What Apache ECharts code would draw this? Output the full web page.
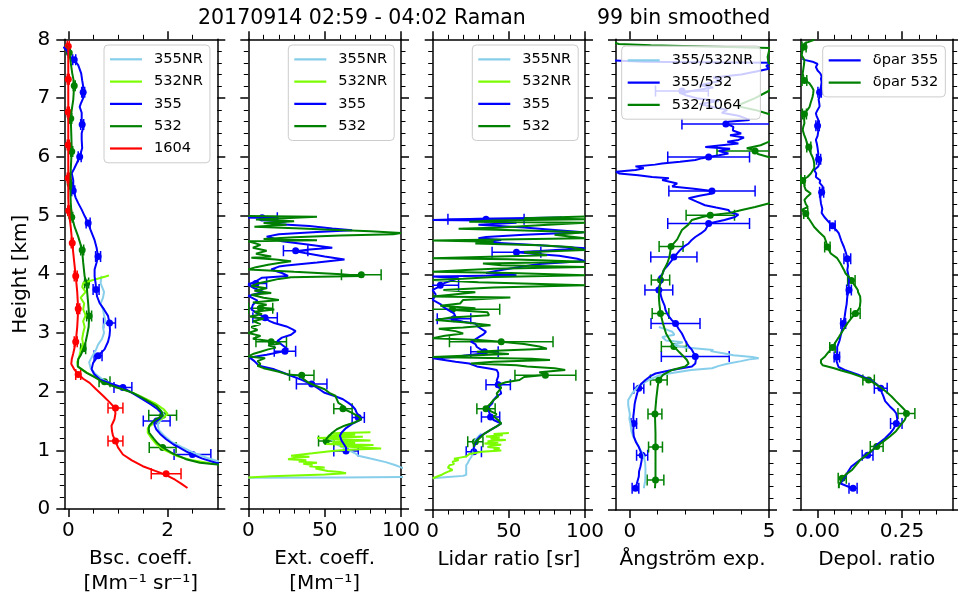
<!DOCTYPE html>
<html><head><meta charset="utf-8">
<script src="https://cdn.jsdelivr.net/npm/echarts@6/dist/echarts.min.js"></script>
<style>html,body{margin:0;padding:0;background:#fff}#c{width:958px;height:601px}</style>
</head><body><div id="c"></div><script>
// ---------- data: profiles as [height_km, value] ----------
const bsc355NR = [[3.97,0.67],[3.85,0.65],[3.7,0.72],[3.6,0.7],[3.5,0.65],[3.4,0.7],[3.3,0.72],[3.2,0.75],[3.1,0.7],[3.0,0.72],[2.9,0.68],[2.8,0.6],[2.7,0.55],[2.6,0.48],[2.5,0.42],[2.4,0.45],[2.3,0.55],[2.2,0.7],[2.1,0.95],[2.0,1.25],[1.9,1.5],[1.8,1.7],[1.7,1.85],[1.6,1.93],[1.53,1.88],[1.45,1.8],[1.35,1.82],[1.25,1.93],[1.15,2.07],[1.05,2.3],[0.95,2.55],[0.87,2.8],[0.82,3.0],[0.8,3.2]];
const bsc532NR = [[3.98,0.82],[3.96,0.75],[3.9,0.5],[3.85,0.3],[3.78,0.28],[3.7,0.35],[3.6,0.25],[3.5,0.32],[3.4,0.3],[3.3,0.35],[3.2,0.3],[3.1,0.33],[3.0,0.3],[2.9,0.28],[2.8,0.3],[2.7,0.25],[2.6,0.22],[2.5,0.18],[2.42,0.2],[2.32,0.38],[2.2,0.65],[2.1,0.9],[2.0,1.25],[1.9,1.5],[1.8,1.75],[1.7,1.92],[1.62,2.0],[1.55,1.9],[1.45,1.7],[1.38,1.6],[1.3,1.6],[1.2,1.68],[1.1,1.78],[1.0,1.95],[0.9,2.2],[0.83,2.5],[0.78,2.85],[0.75,3.2]];
const bsc355 = [[7.87,-0.1],[7.8,-0.02],[7.73,0.0],[7.65,0.12],[7.56,0.2],[7.42,0.26],[7.3,0.28],[7.2,0.3],[7.1,0.28],[7.0,0.3],[6.9,0.25],[6.85,0.23],[6.75,0.27],[6.63,0.27],[6.5,0.3],[6.4,0.27],[6.29,0.27],[6.15,0.28],[6.0,0.23],[5.89,0.17],[5.8,0.12],[5.72,0.07],[5.6,0.1],[5.44,0.1],[5.3,0.15],[5.21,0.2],[5.1,0.27],[4.99,0.33],[4.87,0.4],[4.75,0.45],[4.58,0.53],[4.45,0.57],[4.3,0.6],[4.2,0.57],[4.08,0.53],[3.96,0.53],[3.85,0.55],[3.74,0.56],[3.62,0.58],[3.51,0.63],[3.4,0.72],[3.29,0.8],[3.17,0.83],[3.05,0.84],[2.95,0.83],[2.85,0.8],[2.72,0.73],[2.61,0.6],[2.55,0.55],[2.49,0.5],[2.38,0.47],[2.3,0.52],[2.21,0.63],[2.14,0.85],[2.07,1.1],[1.97,1.3],[1.87,1.5],[1.78,1.67],[1.7,1.8],[1.64,1.87],[1.59,1.9],[1.53,1.83],[1.47,1.73],[1.42,1.74],[1.36,1.77],[1.28,1.85],[1.19,1.97],[1.1,2.12],[1.05,2.23],[0.98,2.38],[0.93,2.5],[0.86,2.7],[0.79,2.97],[0.75,3.2]];
const bsc532 = [[7.9,-0.02],[7.78,0.02],[7.6,0.05],[7.42,0.08],[7.25,0.12],[7.1,0.11],[6.97,0.1],[6.8,0.07],[6.66,0.05],[6.4,0.06],[6.12,0.07],[5.95,0.06],[5.78,0.05],[5.52,0.04],[5.21,0.05],[4.99,0.07],[4.8,0.13],[4.64,0.2],[4.5,0.25],[4.39,0.28],[4.2,0.3],[3.96,0.33],[3.85,0.37],[3.7,0.38],[3.51,0.4],[3.4,0.41],[3.26,0.42],[3.1,0.41],[2.97,0.38],[2.85,0.35],[2.72,0.3],[2.62,0.25],[2.55,0.2],[2.43,0.19],[2.32,0.37],[2.25,0.52],[2.16,0.7],[2.07,0.98],[1.98,1.3],[1.87,1.55],[1.76,1.77],[1.66,1.88],[1.59,1.9],[1.53,1.77],[1.47,1.68],[1.42,1.63],[1.36,1.62],[1.3,1.63],[1.2,1.72],[1.12,1.8],[1.05,1.9],[0.95,2.1],[0.85,2.37],[0.79,2.65],[0.76,3.0],[0.74,3.2]];
const bsc1604 = [[7.95,-0.02],[7.88,0.0],[7.6,0.0],[7.34,0.0],[7.0,0.0],[6.77,0.0],[6.5,0.0],[6.21,0.0],[5.9,0.0],[5.65,0.0],[5.3,0.0],[5.08,0.01],[4.8,0.05],[4.53,0.08],[4.2,0.12],[3.97,0.15],[3.7,0.18],[3.4,0.2],[3.1,0.18],[2.84,0.15],[2.65,0.1],[2.55,0.07],[2.47,0.06],[2.38,0.12],[2.3,0.2],[2.22,0.3],[2.15,0.43],[2.05,0.55],[1.93,0.7],[1.83,0.82],[1.73,0.93],[1.63,0.95],[1.53,0.93],[1.42,0.87],[1.33,0.88],[1.25,0.9],[1.16,0.95],[1.05,1.0],[0.93,1.1],[0.83,1.28],[0.73,1.5],[0.65,1.75],[0.58,1.97],[0.5,2.15],[0.43,2.28],[0.36,2.4]];
// error bars as [height_km, value, error]
const errBsc355 = [[7.65,0.12,0.03],[7.1,0.3,0.03],[6.55,0.28,0.03],[6.0,0.23,0.03],[5.42,0.1,0.03],[4.87,0.4,0.04],[4.3,0.6,0.05],[3.74,0.56,0.06],[3.17,0.83,0.12],[2.61,0.6,0.08],[2.07,1.1,0.18],[1.5,1.78,0.27],[0.93,2.5,0.37]];
const errBsc532 = [[7.77,0.02,0.02],[7.21,0.12,0.02],[6.65,0.05,0.02],[6.09,0.07,0.02],[5.53,0.04,0.02],[4.97,0.07,0.02],[4.41,0.28,0.03],[3.85,0.37,0.04],[3.29,0.42,0.05],[2.73,0.3,0.05],[2.17,0.73,0.11],[1.6,1.9,0.28],[1.05,1.9,0.27]];
const errBsc1604 = [[7.88,0.0,0.02],[7.32,0.0,0.02],[6.76,0.0,0.02],[6.2,0.0,0.02],[5.64,0.0,0.02],[5.08,0.01,0.02],[4.53,0.08,0.02],[3.97,0.15,0.03],[3.41,0.2,0.03],[2.85,0.15,0.03],[2.29,0.2,0.05],[1.72,0.95,0.15],[1.16,0.95,0.15],[0.6,1.97,0.3]];

const ext355NR = [[1.3,55],[1.25,53],[1.2,54],[1.15,56],[1.1,58],[1.05,62],[1.0,66],[0.95,70],[0.91,72],[0.86,80],[0.8,90],[0.75,96],[0.71,100],[0.65,110],[0.55,150],[0.54,60],[0.535,0]];
const ext532NR = [[1.31,80],[1.29,55],[1.27,70],[1.25,52],[1.23,75],[1.21,45],[1.19,60],[1.17,80],[1.15,55],[1.13,70],[1.11,50],[1.09,82],[1.07,60],[1.05,75],[1.03,87],[1.01,65],[0.99,55],[0.97,55],[0.95,42],[0.93,35],[0.91,28],[0.89,40],[0.87,30],[0.85,26],[0.83,38],[0.81,33],[0.79,45],[0.77,36],[0.75,42],[0.73,40],[0.71,50],[0.69,44],[0.67,48],[0.65,52],[0.63,60],[0.61,64],[0.59,50],[0.56,15],[0.54,0]];
const ext355 = [[4.97,0],[4.96,10],[4.95,20],[4.92,8],[4.9,25],[4.86,15],[4.82,40],[4.78,55],[4.75,68],[4.72,45],[4.68,20],[4.64,12],[4.62,15],[4.56,22],[4.5,40],[4.45,55],[4.42,40],[4.39,31],[4.36,37],[4.3,50],[4.25,63],[4.2,45],[4.15,25],[4.13,20],[4.08,15],[4.02,22],[3.97,26],[3.94,9],[3.88,5],[3.82,0],[3.76,4],[3.7,10],[3.63,0],[3.55,6],[3.48,3],[3.4,2],[3.33,6],[3.26,11],[3.2,14],[3.17,17],[3.11,25],[3.06,29],[3.03,31],[2.97,28],[2.92,22],[2.86,19],[2.8,22],[2.77,22],[2.72,26],[2.69,24],[2.63,12],[2.58,1],[2.52,4],[2.44,7],[2.38,17],[2.33,22],[2.27,28],[2.2,35],[2.13,41],[2.05,46],[1.98,50],[1.93,56],[1.87,62],[1.8,66],[1.76,68],[1.7,70],[1.64,71],[1.58,73],[1.53,74],[1.49,71],[1.45,68],[1.38,64],[1.3,61],[1.25,60],[1.22,60],[1.17,61],[1.13,62],[1.05,64],[0.99,64]];
const ext532 = [[4.99,0],[4.98,45],[4.95,20],[4.93,5],[4.9,30],[4.87,10],[4.84,25],[4.81,4],[4.78,35],[4.76,50],[4.73,80],[4.7,100],[4.68,95],[4.66,60],[4.63,30],[4.6,10],[4.58,45],[4.56,0],[4.5,8],[4.45,3],[4.4,12],[4.35,5],[4.3,15],[4.28,2],[4.25,18],[4.22,28],[4.19,20],[4.16,13],[4.12,5],[4.08,0],[4.04,30],[4.0,61],[3.97,74],[3.95,28],[3.92,20],[3.88,13],[3.84,6],[3.8,2],[3.76,12],[3.72,4],[3.68,15],[3.65,2],[3.6,10],[3.56,20],[3.52,3],[3.48,12],[3.44,6],[3.4,17],[3.36,4],[3.32,9],[3.28,1],[3.24,10],[3.2,3],[3.15,8],[3.1,2],[3.05,6],[3.0,0],[2.95,8],[2.9,3],[2.86,15],[2.82,21],[2.79,13],[2.75,18],[2.72,13],[2.68,8],[2.64,3],[2.6,0],[2.57,11],[2.52,6],[2.47,8],[2.44,6],[2.4,10],[2.38,13],[2.34,20],[2.29,26],[2.27,35],[2.22,36],[2.16,39],[2.1,44],[2.04,50],[1.98,53],[1.93,57],[1.87,58],[1.81,59],[1.76,62],[1.7,63],[1.64,68],[1.58,72],[1.53,74],[1.48,70],[1.42,63],[1.36,58],[1.3,55],[1.25,53],[1.19,51],[1.14,51],[1.1,50]];
const errExt355 = [[4.96,9,10],[4.4,31,8],[3.84,5,7],[3.26,11,8],[2.69,24,7],[2.13,41.5,10],[1.56,72,4],[0.99,64,8]];
const errExt532 = [[3.99,74,13],[3.42,8,8],[2.85,15,10],[2.28,35,8],[1.71,62,6],[1.16,51,5]];

const lr355NR = [[1.3,32],[1.25,30],[1.19,28],[1.1,27],[1.02,27],[0.95,26],[0.91,25.5],[0.85,24],[0.8,23],[0.76,22],[0.7,22],[0.65,22],[0.6,22],[0.58,20],[0.56,10],[0.54,0]];
const lr532NR = [[1.31,50],[1.29,40],[1.27,46],[1.25,35],[1.23,44],[1.21,38],[1.19,48],[1.17,36],[1.15,43],[1.13,34],[1.11,45],[1.09,38],[1.07,36],[1.05,44],[1.03,40],[1.01,45],[0.99,32],[0.97,28],[0.95,24],[0.93,25],[0.91,22],[0.89,18],[0.87,14],[0.85,17],[0.82,13],[0.8,12],[0.78,14],[0.76,11],[0.74,12],[0.72,10],[0.7,11],[0.68,13],[0.66,11],[0.64,9],[0.62,8],[0.6,6],[0.57,3],[0.54,0]];
const lr355 = [[4.97,85],[4.95,30],[4.93,0],[4.92,35],[4.88,55],[4.85,30],[4.8,60],[4.76,80],[4.72,99],[4.68,60],[4.64,35],[4.62,30],[4.59,45],[4.55,35],[4.5,70],[4.45,100],[4.4,70],[4.38,55],[4.35,68],[4.32,83],[4.27,95],[4.23,100],[4.18,70],[4.13,57],[4.08,45],[4.03,35],[3.99,55],[3.97,0],[3.94,17],[3.91,16],[3.86,8],[3.82,5],[3.78,3],[3.74,0],[3.66,2],[3.57,0],[3.5,5],[3.45,7],[3.4,10],[3.34,14],[3.28,15],[3.24,14],[3.2,20],[3.17,28],[3.11,30],[3.06,33],[3.03,35],[2.98,33],[2.95,31],[2.9,28],[2.86,25],[2.82,28],[2.77,29],[2.72,32],[2.69,34],[2.65,30],[2.62,20],[2.6,16],[2.58,0],[2.52,15],[2.49,24],[2.44,29],[2.4,38],[2.38,42],[2.33,43],[2.27,43],[2.2,42],[2.13,43],[2.06,44],[1.98,45],[1.93,42],[1.87,40],[1.81,39],[1.76,37],[1.73,36],[1.67,37],[1.59,38],[1.53,40],[1.47,45],[1.42,42],[1.36,38],[1.3,34],[1.25,31],[1.19,29],[1.13,28],[1.06,27],[0.99,27]];
const lr532 = [[4.99,100],[4.96,60],[4.94,100],[4.92,40],[4.9,24],[4.88,100],[4.85,100],[4.84,70],[4.8,45],[4.78,17],[4.75,60],[4.72,100],[4.68,80],[4.62,100],[4.58,0],[4.56,40],[4.53,28],[4.5,70],[4.47,90],[4.42,100],[4.38,60],[4.33,75],[4.28,0],[4.26,50],[4.22,100],[4.19,33],[4.16,45],[4.13,100],[4.1,40],[4.08,22],[4.05,0],[4.03,51],[3.99,100],[3.96,40],[3.93,20],[3.91,0],[3.87,30],[3.82,100],[3.78,40],[3.74,7],[3.7,28],[3.66,12],[3.63,0],[3.61,51],[3.57,20],[3.51,18],[3.47,5],[3.43,28],[3.4,14],[3.36,36],[3.31,37],[3.27,12],[3.23,2],[3.19,20],[3.14,38],[3.1,20],[3.08,4],[3.04,15],[3.0,20],[2.96,8],[2.92,0],[2.89,30],[2.86,45],[2.82,60],[2.78,70],[2.74,75],[2.71,45],[2.69,29],[2.65,50],[2.62,20],[2.6,0],[2.57,65],[2.55,77],[2.52,40],[2.49,25],[2.46,55],[2.44,62],[2.41,80],[2.38,87],[2.34,70],[2.3,75],[2.26,60],[2.21,57],[2.17,48],[2.13,43],[2.08,45],[2.04,44],[1.98,42],[1.93,43],[1.87,40],[1.81,38],[1.76,36],[1.73,35],[1.68,38],[1.63,42],[1.59,40],[1.53,43],[1.47,45],[1.42,42],[1.36,38],[1.3,34],[1.25,32],[1.2,30],[1.16,28],[1.12,27],[1.07,27]];
const errLr355 = [[4.94,35,25],[4.38,55,16],[3.82,5,12],[3.25,14,11],[2.69,34,9],[2.13,43,8],[1.58,38,6],[0.99,27,5]];
const errLr532 = [[3.41,13,31],[2.86,45,34],[2.29,74,20],[1.72,35,6],[1.16,28,5]];

const ae355_532NR = [[0.37,0.5],[0.5,0.55],[0.68,0.56],[0.8,0.55],[0.91,0.5],[1.0,0.4],[1.13,0.26],[1.25,0.12],[1.35,0.05],[1.47,0.02],[1.55,-0.02],[1.62,0.0],[1.7,-0.03],[1.78,-0.06],[1.87,-0.06],[1.98,0.08],[2.1,0.3],[2.21,0.68],[2.28,1.0],[2.32,1.4],[2.38,2.2],[2.41,2.95],[2.45,3.2],[2.49,3.54],[2.53,4.0],[2.56,4.3],[2.58,4.63],[2.6,4.4],[2.63,3.72],[2.66,3.4],[2.7,2.9],[2.72,3.0],[2.76,2.0],[2.8,1.52],[2.85,1.9],[2.88,1.3],[2.94,1.16],[2.98,1.6],[3.03,1.52],[3.07,1.3],[3.11,1.04]];
const ae355_532 = [[0.37,0.2],[0.45,0.25],[0.57,0.32],[0.66,0.33],[0.74,0.38],[0.84,0.42],[0.93,0.44],[1.0,0.38],[1.07,0.32],[1.15,0.22],[1.25,0.14],[1.35,0.12],[1.47,0.14],[1.58,0.12],[1.7,0.15],[1.8,0.17],[1.87,0.2],[1.98,0.26],[2.07,0.32],[2.14,0.4],[2.21,0.56],[2.27,0.72],[2.32,0.92],[2.38,1.51],[2.44,2.23],[2.49,2.35],[2.55,2.37],[2.6,2.35],[2.66,2.3],[2.72,2.23],[2.78,2.12],[2.83,2.05],[2.9,1.97],[3.0,1.87],[3.08,1.75],[3.17,1.64],[3.23,1.5],[3.29,1.4],[3.35,1.33],[3.4,1.28],[3.47,1.25],[3.57,1.16],[3.63,1.12],[3.68,1.1],[3.74,1.04],[3.8,1.05],[3.85,1.1],[3.91,1.16],[3.96,1.05],[4.0,1.16],[4.08,1.22],[4.15,1.35],[4.25,1.52],[4.3,1.58],[4.36,1.7],[4.42,1.81],[4.48,1.95],[4.53,2.11],[4.58,2.2],[4.64,2.35],[4.7,2.55],[4.76,2.71],[4.82,2.78],[4.87,2.83],[4.93,3.4],[4.98,3.78],[5.02,3.9],[5.06,3.6],[5.1,3.54],[5.14,3.1],[5.18,2.7],[5.24,2.4],[5.3,2.11],[5.34,2.5],[5.38,2.95],[5.42,2.95],[5.46,2.3],[5.5,1.52],[5.55,1.7],[5.61,1.16],[5.64,1.4],[5.66,0.8],[5.69,0.3],[5.72,-0.39],[5.75,-0.5],[5.78,0.2],[5.81,0.5],[5.84,0.2],[5.87,0.9],[5.89,1.16],[5.92,1.8],[5.95,2.35],[5.98,2.6],[6.0,2.83],[6.03,3.2],[6.06,3.54],[6.1,3.2],[6.14,3.6],[6.17,2.71],[6.2,3.3],[6.23,3.9],[6.26,3.5],[6.29,3.9],[6.33,4.1],[6.37,3.6],[6.4,4.0],[6.45,3.7],[6.51,3.72],[6.56,3.5],[6.6,3.54],[6.63,4.3],[6.66,4.14],[6.7,3.9],[6.75,3.3],[6.8,3.5],[6.85,3.0],[6.9,2.5],[6.95,3.2],[7.0,2.4],[7.05,2.0],[7.08,1.87],[7.12,2.2],[7.18,3.0],[7.22,2.5],[7.3,3.3],[7.35,3.0],[7.4,4.0],[7.45,4.5],[7.5,5.0],[7.55,4.9],[7.6,5.1],[7.62,0.5],[7.64,-0.6]];
const ae532_1064 = [[0.37,0.9],[0.51,0.92],[0.7,0.92],[0.9,0.92],[1.07,0.92],[1.3,0.92],[1.63,0.9],[1.9,0.95],[2.1,1.0],[2.21,1.04],[2.3,1.2],[2.38,1.52],[2.44,1.99],[2.49,2.11],[2.55,2.05],[2.6,1.95],[2.68,1.78],[2.78,1.58],[2.9,1.42],[3.0,1.3],[3.15,1.2],[3.34,1.1],[3.5,1.06],[3.63,1.04],[3.8,1.07],[3.91,1.1],[4.0,1.16],[4.08,1.22],[4.19,1.34],[4.3,1.42],[4.48,1.48],[4.6,1.7],[4.76,1.87],[4.85,2.1],[4.93,2.23],[4.98,2.6],[5.01,2.89],[5.05,3.6],[5.1,4.02],[5.15,4.5],[5.21,4.98],[5.25,5.3],[5.95,5.3],[6.0,4.98],[6.05,4.6],[6.12,4.5],[6.15,4.2],[6.2,4.7],[6.23,4.74],[6.3,5.2],[6.7,5.2],[6.8,4.5],[6.86,3.9],[6.9,4.0],[7.0,4.5],[7.1,4.9],[7.2,5.3],[7.5,5.3],[7.6,4.98],[7.7,4.95],[7.8,5.0],[7.85,5.3],[7.9,0.75],[7.92,-0.4],[7.95,-0.6]];
const errAe355_532 = [[0.37,0.2,0.12],[0.93,0.44,0.2],[1.47,0.14,0.1],[2.07,0.32,0.18],[2.61,2.35,1.22],[3.17,1.64,0.88],[3.74,1.04,0.5],[4.3,1.58,0.83],[4.87,2.83,1.47],[5.42,2.95,1.55],[6.0,2.83,1.47],[6.56,3.45,1.58],[7.12,1.87,0.95]];
const errAe532_1064 = [[0.51,0.92,0.3],[1.07,0.92,0.25],[1.63,0.9,0.25],[2.21,1.04,0.3],[2.78,1.58,0.45],[3.34,1.1,0.3],[3.91,1.1,0.33],[4.48,1.48,0.43],[5.01,2.89,0.87],[6.1,4.5,1.37]];

const dp355 = [[0.37,0.105],[0.4,0.09],[0.45,0.068],[0.52,0.075],[0.57,0.082],[0.65,0.09],[0.74,0.1],[0.85,0.125],[0.93,0.148],[1.03,0.165],[1.13,0.18],[1.22,0.2],[1.3,0.214],[1.38,0.225],[1.47,0.233],[1.55,0.236],[1.64,0.233],[1.7,0.225],[1.76,0.214],[1.85,0.2],[1.93,0.195],[2.0,0.19],[2.07,0.187],[2.14,0.175],[2.21,0.156],[2.3,0.12],[2.38,0.08],[2.43,0.062],[2.46,0.057],[2.53,0.056],[2.6,0.057],[2.7,0.058],[2.77,0.058],[2.88,0.065],[3.0,0.07],[3.08,0.073],[3.17,0.076],[3.28,0.08],[3.4,0.083],[3.5,0.086],[3.63,0.088],[3.74,0.093],[3.85,0.092],[3.91,0.093],[3.96,0.092],[4.08,0.088],[4.15,0.09],[4.25,0.088],[4.35,0.085],[4.47,0.078],[4.58,0.07],[4.7,0.063],[4.76,0.055],[4.82,0.044],[4.9,0.032],[4.98,0.02],[5.05,0.012],[5.12,0.014],[5.21,0.01],[5.3,0.008],[5.38,0.01],[5.44,0.014],[5.5,0.015],[5.56,0.006],[5.6,0.008],[5.66,-0.005],[5.72,-0.004],[5.78,-0.01],[5.84,0.002],[5.89,0.005],[5.95,0.003],[6.0,0.0],[6.06,0.002],[6.15,0.0],[6.22,-0.002],[6.29,-0.005],[6.36,0.0],[6.44,0.002],[6.5,-0.002],[6.57,0.0],[6.63,0.002],[6.7,-0.003],[6.74,-0.005],[6.8,0.0],[6.86,0.006],[6.91,0.005],[6.98,0.003],[7.05,0.008],[7.1,0.006],[7.14,0.008],[7.2,0.01],[7.27,0.012],[7.33,0.01],[7.37,0.012],[7.42,0.008],[7.47,0.0],[7.53,-0.005],[7.58,0.0],[7.62,-0.015],[7.65,-0.039],[7.67,-0.045]];
const dp532 = [[0.37,0.063],[0.4,0.062],[0.43,0.063],[0.48,0.068],[0.54,0.073],[0.6,0.083],[0.68,0.102],[0.76,0.113],[0.85,0.126],[0.95,0.148],[1.08,0.175],[1.17,0.196],[1.25,0.214],[1.34,0.232],[1.42,0.243],[1.53,0.258],[1.6,0.263],[1.64,0.263],[1.7,0.258],[1.76,0.248],[1.85,0.232],[1.93,0.219],[2.0,0.205],[2.07,0.19],[2.14,0.172],[2.21,0.151],[2.27,0.125],[2.32,0.102],[2.37,0.07],[2.41,0.049],[2.46,0.015],[2.5,0.01],[2.55,0.01],[2.61,0.022],[2.66,0.029],[2.71,0.036],[2.76,0.044],[2.85,0.053],[2.94,0.063],[3.05,0.075],[3.17,0.088],[3.26,0.1],[3.34,0.112],[3.4,0.12],[3.45,0.125],[3.55,0.127],[3.63,0.126],[3.7,0.12],[3.74,0.119],[3.8,0.112],[3.88,0.102],[3.96,0.093],[4.02,0.083],[4.08,0.078],[4.19,0.068],[4.28,0.058],[4.36,0.039],[4.47,0.029],[4.56,0.025],[4.64,0.02],[4.72,0.005],[4.81,-0.01],[4.9,-0.02],[4.98,-0.029],[5.04,-0.035],[5.1,-0.047],[5.15,-0.029],[5.2,-0.035],[5.27,-0.039],[5.33,-0.03],[5.38,-0.02],[5.44,-0.035],[5.5,-0.039],[5.56,-0.04],[5.61,-0.044],[5.66,-0.03],[5.72,-0.02],[5.81,-0.01],[5.89,-0.01],[5.95,-0.012],[6.0,-0.015],[6.06,-0.02],[6.12,-0.024],[6.2,-0.03],[6.29,-0.034],[6.38,-0.04],[6.46,-0.044],[6.52,-0.042],[6.57,-0.039],[6.65,-0.04],[6.74,-0.039],[6.8,-0.03],[6.85,-0.024],[6.93,-0.02],[7.02,-0.015],[7.08,-0.013],[7.14,-0.012],[7.2,-0.018],[7.25,-0.024],[7.31,-0.039],[7.36,-0.042],[7.42,-0.044],[7.5,-0.042],[7.58,-0.04],[7.65,-0.039],[7.73,-0.047],[7.8,-0.045],[7.88,-0.04],[7.93,-0.039],[7.97,-0.02],[7.99,-0.01]];
const errDp355 = [[0.37,0.105,0.012],[0.93,0.148,0.016],[1.47,0.233,0.017],[2.07,0.187,0.019],[2.6,0.057,0.008],[3.17,0.076,0.007],[3.74,0.093,0.007],[4.27,0.088,0.01],[4.83,0.044,0.008],[5.4,0.012,0.006],[5.96,0.003,0.006],[6.53,0.0,0.005],[7.1,0.006,0.005]];
const errDp532 = [[0.54,0.073,0.012],[1.08,0.175,0.019],[1.64,0.263,0.025],[2.21,0.151,0.017],[2.76,0.044,0.008],[3.34,0.112,0.014],[3.9,0.1,0.011],[4.47,0.029,0.008],[5.04,-0.035,0.006],[5.6,-0.044,0.006],[6.17,-0.026,0.006],[6.73,-0.039,0.006],[7.3,-0.039,0.007],[7.87,-0.04,0.006]];

// ---------- axes / ticks ----------
const xMin = [-0.08, 0, 0, -0.5, -0.05];
const xMax = [3, 100, 100, 5, 0.4];
const xMajor = [[0,2],[0,50,100],[0,50,100],[0,5],[0,0.25]];
const xMinor = [[0.5,1,1.5,2.5],[10,20,30,40,60,70,80,90],[10,20,30,40,60,70,80,90],[1,2,3,4],[0.05,0.1,0.15,0.2,0.3,0.35]];
const xNames = ['Bsc. coeff.\n[Mm\u207B\u00B9 sr\u207B\u00B9]','Ext. coeff.\n[Mm\u207B\u00B9]','Lidar ratio [sr]','\u00C5ngstr\u00F6m exp.','Depol. ratio'];
const yName = 'Height [km]';
const titleLeft = '20170914 02:59 - 04:02 Raman';
const titleRight = '99 bin smoothed';
const legendNames = [['355NR','532NR','355','532','1604'],['355NR','532NR','355','532'],['355NR','532NR','355','532'],['355/532NR','355/532','532/1064'],['\u03B4par 355','\u03B4par 532']];

const FONT = 'DejaVu Sans';
const GL = [64.3, 248.3, 432.7, 616, 800.7];
const GW = [153, 152.7, 152.3, 153, 152];
const GT = 39.3, GH = 470.7;
const C = {skyblue:'#87CEEB', lawngreen:'#7CFC00', blue:'#0000FF', green:'#008000', red:'#FF0000'};

const grid = GL.map((l,i)=>({left:l, top:GT, width:GW[i], height:GH}));
const xAxis = [], yAxis = [];
for (let i=0;i<5;i++){
  const fmt = i===4 ? (v=>v.toFixed(2)) : (v=>String(v));
  const base = {gridIndex:i, type:'value', min:xMin[i], max:xMax[i], splitLine:{show:false}, minorSplitLine:{show:false}};
  xAxis.push(Object.assign({}, base, {position:'bottom',
    axisLine:{show:true,onZero:false,lineStyle:{color:'#000',width:1.5}},
    axisTick:{show:true,length:8,lineStyle:{color:'#000',width:1.5},customValues:xMajor[i]},
    axisLabel:{show:true,customValues:xMajor[i],formatter:fmt,fontSize:20,fontFamily:FONT,color:'#000',margin:12},
    name:xNames[i], nameLocation:'middle', nameGap:33,
    nameTextStyle:{fontSize:20,fontFamily:FONT,color:'#000',lineHeight:25}}));
  xAxis.push(Object.assign({}, base, {position:'bottom', axisLine:{show:false,onZero:false},
    axisTick:{show:true,length:4.5,lineStyle:{color:'#000',width:1},customValues:xMinor[i]}, axisLabel:{show:false}}));
  xAxis.push(Object.assign({}, base, {position:'top',
    axisLine:{show:true,onZero:false,lineStyle:{color:'#000',width:1.5}},
    axisTick:{show:true,length:8,lineStyle:{color:'#000',width:1.5},customValues:xMajor[i]}, axisLabel:{show:false}}));
  xAxis.push(Object.assign({}, base, {position:'top', axisLine:{show:false,onZero:false},
    axisTick:{show:true,length:4.5,lineStyle:{color:'#000',width:1},customValues:xMinor[i]}, axisLabel:{show:false}}));
  const ybase = {gridIndex:i, type:'value', min:0, max:8, interval:1, splitLine:{show:false}, minorSplitLine:{show:false},
    axisLine:{show:true,onZero:false,lineStyle:{color:'#000',width:1.5}},
    axisTick:{show:true,length:8,lineStyle:{color:'#000',width:1.5}},
    minorTick:{show:true,splitNumber:5,length:4.5,lineStyle:{color:'#000',width:1}}};
  yAxis.push(Object.assign({}, ybase, {position:'left',
    axisLabel: i===0 ? {show:true,fontSize:20,fontFamily:FONT,color:'#000',margin:14} : {show:false},
    name: i===0 ? yName : '', nameLocation:'middle', nameGap:34,
    nameTextStyle:{fontSize:20,fontFamily:FONT,color:'#000'}}));
  yAxis.push(Object.assign({}, ybase, {position:'right', axisLabel:{show:false}}));
}

const toXY = a => a.map(p => [p[1], p[0]]);
function lineS(name, color, data, gi){
  return {type:'line', name, color, data:toXY(data), xAxisIndex:4*gi, yAxisIndex:2*gi,
    showSymbol:false, symbol:'none', clip:true, animation:false,
    lineStyle:{width:2, color}, emphasis:{disabled:true}};
}
function errS(name, color, data, gi){
  return {type:'custom', name: name+' err', xAxisIndex:4*gi, yAxisIndex:2*gi, clip:true, animation:false,
    data: data.map(p=>[p[1], p[0], p[2]]), encode:{x:0,y:1},
    renderItem:(params, api)=>{
      const v=api.value(0), h=api.value(1), e=api.value(2);
      const L=api.coord([v-e,h]), R=api.coord([v+e,h]), P=api.coord([v,h]);
      const st={stroke:color, lineWidth:1.5};
      return {type:'group', children:[
        {type:'line', shape:{x1:L[0],y1:L[1],x2:R[0],y2:R[1]}, style:st},
        {type:'line', shape:{x1:L[0],y1:L[1]-5.5,x2:L[0],y2:L[1]+5.5}, style:st},
        {type:'line', shape:{x1:R[0],y1:R[1]-5.5,x2:R[0],y2:R[1]+5.5}, style:st},
        {type:'circle', shape:{cx:P[0],cy:P[1],r:3.5}, style:{fill:color}}
      ]};
    }};
}

const series = [
  lineS('355NR',C.skyblue,bsc355NR,0), lineS('532NR',C.lawngreen,bsc532NR,0),
  lineS('355',C.blue,bsc355,0), errS('355',C.blue,errBsc355,0),
  lineS('532',C.green,bsc532,0), errS('532',C.green,errBsc532,0),
  lineS('1604',C.red,bsc1604,0), errS('1604',C.red,errBsc1604,0),

  lineS('355NR',C.skyblue,ext355NR,1), lineS('532NR',C.lawngreen,ext532NR,1),
  lineS('355',C.blue,ext355,1), errS('355',C.blue,errExt355,1),
  lineS('532',C.green,ext532,1), errS('532',C.green,errExt532,1),

  lineS('355NR',C.skyblue,lr355NR,2), lineS('532NR',C.lawngreen,lr532NR,2),
  lineS('355',C.blue,lr355,2), errS('355',C.blue,errLr355,2),
  lineS('532',C.green,lr532,2), errS('532',C.green,errLr532,2),

  lineS('355/532NR',C.skyblue,ae355_532NR,3),
  lineS('355/532',C.blue,ae355_532,3), errS('355/532',C.blue,errAe355_532,3),
  lineS('532/1064',C.green,ae532_1064,3), errS('532/1064',C.green,errAe532_1064,3),

  lineS('\u03B4par 355',C.blue,dp355,4), errS('\u03B4par 355',C.blue,errDp355,4),
  lineS('\u03B4par 532',C.green,dp532,4), errS('\u03B4par 532',C.green,errDp532,4)
];

const legPos = [[104,45],[288.3,45],[472.3,45],[621.7,46],[822.7,46]];
const legend = legendNames.map((names,i)=>({
  data:names, orient:'vertical', left:legPos[i][0], top:legPos[i][1],
  icon:'rect', itemWidth:32, itemHeight:2.2, itemGap:6.3,
  padding:[6.3,7,6.3,6], backgroundColor:'rgba(255,255,255,0.8)',
  borderColor:'#cccccc', borderWidth:1, borderRadius:4,
  itemStyle:{borderWidth:0}, selectedMode:false,
  textStyle:{fontSize:14.6, fontFamily:FONT, color:'#000', lineHeight:16, padding:[0,0,0,7]}
}));

const option = {
  backgroundColor:'#fff', animation:false,
  grid, xAxis, yAxis, series, legend,
  graphic:[
    {type:'text', left:198, top:8, style:{text:titleLeft, font:'20.5px "DejaVu Sans"', fill:'#000'}},
    {type:'text', left:597, top:8, style:{text:titleRight, font:'20.5px "DejaVu Sans"', fill:'#000'}}
  ]
};
const chart = echarts.init(document.getElementById('c'), null, {renderer:'canvas'});
chart.setOption(option);
</script></body></html>
